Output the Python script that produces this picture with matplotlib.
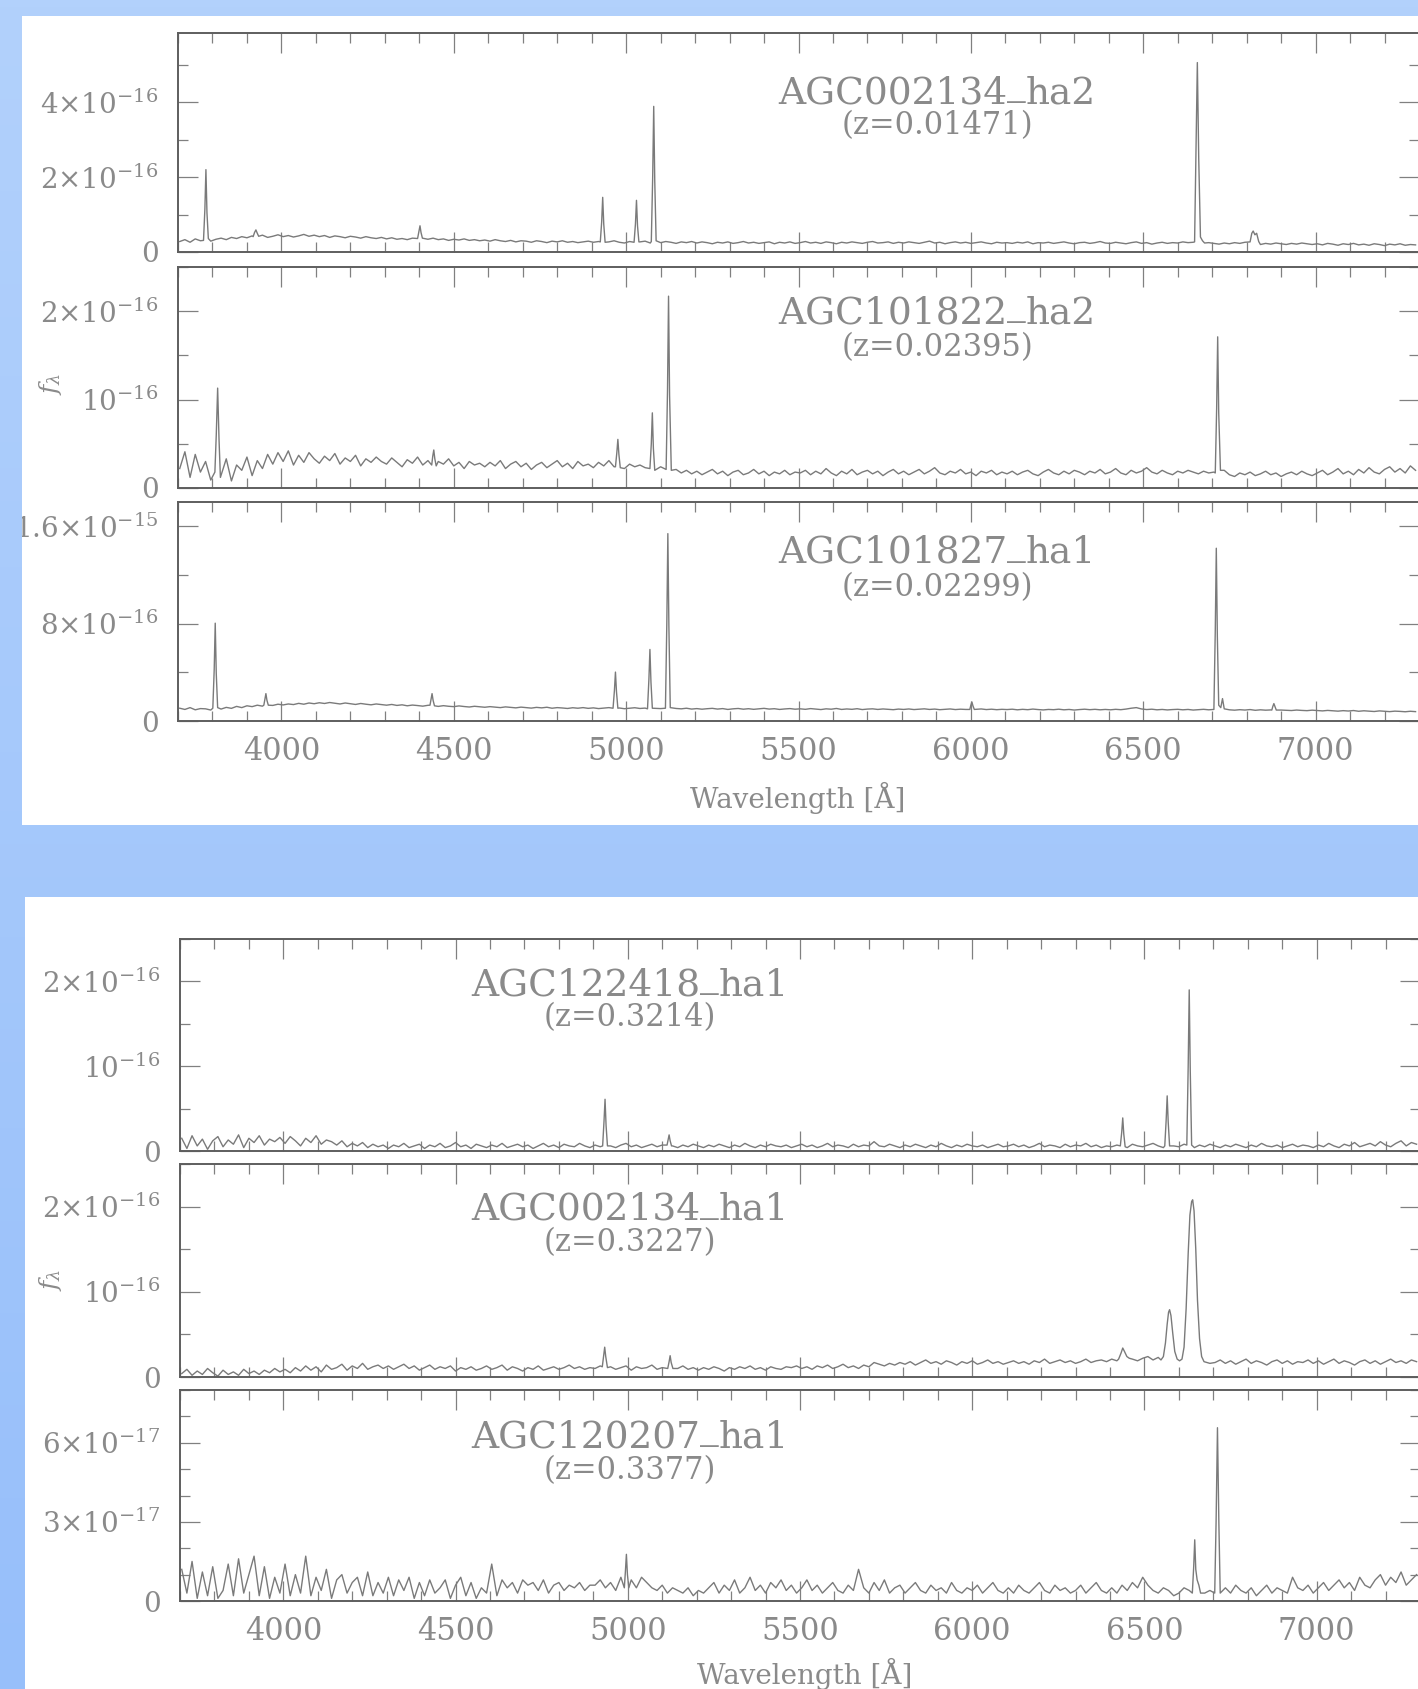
import numpy as np
import matplotlib
matplotlib.use('Agg')
import matplotlib.pyplot as plt
from matplotlib.patches import Rectangle
from matplotlib.colors import LinearSegmentedColormap
from matplotlib.ticker import MultipleLocator
from matplotlib.transforms import Bbox, TransformedBbox

plt.rcParams['font.family'] = ['DejaVu Serif']
plt.rcParams['mathtext.fontset'] = 'dejavuserif'

W, H = 1418, 1689

# continuum samples: first wavelength and spacing [A]
cont_start, cont_step = 3705, 15

# ---- AGC002134_ha2 (units 1e-16)
p1_cont = [0.28, 0.33, 0.26, 0.35, 0.30, 0.32, 0.29, 0.34, 0.37, 0.33, 0.39, 0.36, 0.41, 0.38, 0.43, 0.40, 0.45, 0.39, 0.42, 0.46,
           0.41, 0.44, 0.40, 0.43, 0.47, 0.42, 0.45, 0.41, 0.44, 0.39, 0.43, 0.41, 0.38, 0.42, 0.40, 0.37, 0.41, 0.38, 0.36, 0.39,
           0.35, 0.38, 0.34, 0.36, 0.33, 0.37, 0.40, 0.36, 0.34, 0.37, 0.33, 0.35, 0.31, 0.34, 0.32, 0.35, 0.31, 0.33, 0.30, 0.32,
           0.29, 0.33, 0.30, 0.28, 0.31, 0.27, 0.30, 0.29, 0.26, 0.30, 0.28, 0.25, 0.29, 0.27, 0.30, 0.26, 0.28, 0.25, 0.27, 0.29,
           0.26, 0.28, 0.25, 0.27, 0.30, 0.26, 0.24, 0.28, 0.25, 0.27, 0.29, 0.24, 0.27, 0.25, 0.28, 0.26, 0.23, 0.27, 0.25, 0.28,
           0.24, 0.27, 0.25, 0.22, 0.26, 0.24, 0.27, 0.23, 0.25, 0.28, 0.24, 0.26, 0.23, 0.25, 0.27, 0.22, 0.26, 0.24, 0.27, 0.23,
           0.25, 0.28, 0.24, 0.26, 0.23, 0.27, 0.25, 0.22, 0.26, 0.24, 0.27, 0.25, 0.23, 0.26, 0.28, 0.24, 0.25, 0.27, 0.23, 0.26,
           0.24, 0.27, 0.25, 0.23, 0.26, 0.29, 0.24, 0.26, 0.22, 0.25, 0.27, 0.24, 0.26, 0.23, 0.25, 0.27, 0.24, 0.22, 0.26, 0.24,
           0.25, 0.23, 0.26, 0.24, 0.27, 0.22, 0.25, 0.24, 0.26, 0.23, 0.25, 0.27, 0.24, 0.22, 0.25, 0.26, 0.23, 0.25, 0.28, 0.24,
           0.23, 0.26, 0.24, 0.22, 0.25, 0.27, 0.23, 0.25, 0.21, 0.24, 0.26, 0.23, 0.25, 0.24, 0.27, 0.25, 0.26, 0.24, 0.22, 0.25,
           0.23, 0.21, 0.24, 0.22, 0.25, 0.23, 0.26, 0.24, 0.22, 0.20, 0.23, 0.21, 0.24, 0.22, 0.20, 0.23, 0.21, 0.24, 0.22, 0.20,
           0.22, 0.19, 0.23, 0.21, 0.18, 0.22, 0.20, 0.23, 0.19, 0.21, 0.18, 0.22, 0.20, 0.17, 0.21, 0.19, 0.22, 0.18, 0.20, 0.19]
p1_line_wl = [[3774, 3778, 3781, 3784, 3788], [3918, 3922, 3926, 3930, 3934], [4395, 4399, 4402, 4405, 4409],
              [4925, 4929, 4932, 4935, 4939], [5023, 5027, 5030, 5033, 5037], [5073, 5077, 5080, 5083, 5087],
              [6649, 6653, 6657, 6661, 6666, 6672, 6678], [6810, 6815, 6819, 6824, 6829, 6835]]
p1_line_f = [[0.31, 1.15, 2.20, 1.05, 0.36], [0.41, 0.52, 0.59, 0.50, 0.42], [0.36, 0.55, 0.70, 0.52, 0.37],
             [0.27, 0.80, 1.46, 0.75, 0.26], [0.26, 0.75, 1.38, 0.70, 0.27], [0.28, 2.00, 3.89, 1.90, 0.30],
             [0.27, 2.60, 5.06, 2.50, 0.40, 0.30, 0.24], [0.27, 0.50, 0.56, 0.46, 0.50, 0.28]]

# ---- AGC101822_ha2 (units 1e-16)
p2_cont = [0.22, 0.41, 0.12, 0.38, 0.18, 0.30, 0.09, 0.27, 0.15, 0.33, 0.08, 0.26, 0.20, 0.35, 0.14, 0.31, 0.22, 0.38, 0.27, 0.40,
           0.30, 0.42, 0.26, 0.37, 0.29, 0.40, 0.33, 0.28, 0.36, 0.31, 0.39, 0.27, 0.34, 0.30, 0.37, 0.25, 0.33, 0.29, 0.35, 0.30,
           0.27, 0.34, 0.29, 0.24, 0.32, 0.28, 0.35, 0.26, 0.31, 0.23, 0.30, 0.27, 0.33, 0.25, 0.29, 0.22, 0.30, 0.26, 0.28, 0.24,
           0.29, 0.25, 0.31, 0.22, 0.27, 0.30, 0.24, 0.28, 0.21, 0.26, 0.29, 0.23, 0.27, 0.31, 0.24, 0.28, 0.22, 0.30, 0.25, 0.27,
           0.23, 0.29, 0.25, 0.31, 0.24, 0.28, 0.22, 0.27, 0.24, 0.26, 0.23, 0.25, 0.21, 0.24, 0.20, 0.18, 0.21, 0.17, 0.20, 0.16,
           0.19, 0.15, 0.18, 0.21, 0.16, 0.19, 0.14, 0.18, 0.20, 0.15, 0.17, 0.21, 0.16, 0.19, 0.14, 0.18, 0.16, 0.20, 0.15, 0.18,
           0.17, 0.20, 0.15, 0.19, 0.16, 0.22, 0.17, 0.14, 0.19, 0.16, 0.21, 0.15, 0.18, 0.20, 0.16, 0.19, 0.14, 0.18, 0.21, 0.16,
           0.19, 0.15, 0.18, 0.21, 0.16, 0.19, 0.23, 0.17, 0.15, 0.19, 0.17, 0.21, 0.16, 0.18, 0.14, 0.19, 0.17, 0.20, 0.15, 0.18,
           0.16, 0.19, 0.15, 0.18, 0.20, 0.16, 0.14, 0.18, 0.21, 0.17, 0.15, 0.19, 0.16, 0.20, 0.18, 0.15, 0.19, 0.17, 0.21, 0.16,
           0.18, 0.22, 0.17, 0.15, 0.20, 0.17, 0.19, 0.23, 0.18, 0.16, 0.20, 0.17, 0.15, 0.19, 0.17, 0.20, 0.18, 0.16, 0.19, 0.17,
           0.18, 0.16, 0.20, 0.15, 0.13, 0.17, 0.15, 0.18, 0.14, 0.16, 0.19, 0.15, 0.17, 0.13, 0.16, 0.18, 0.15, 0.19, 0.16, 0.14,
           0.17, 0.20, 0.15, 0.18, 0.22, 0.16, 0.19, 0.15, 0.21, 0.17, 0.23, 0.18, 0.16, 0.21, 0.24, 0.18, 0.22, 0.17, 0.25, 0.20]
p2_line_wl = [[3807, 3811, 3815, 3819, 3823], [4436, 4439, 4442, 4445, 4449], [4969, 4973, 4976, 4979, 4983],
              [5069, 5073, 5076, 5079, 5083], [5116, 5120, 5123, 5126, 5131], [6709, 6713, 6716, 6719, 6724]]
p2_line_f = [[0.18, 0.60, 1.13, 0.55, 0.12], [0.26, 0.36, 0.43, 0.33, 0.25], [0.24, 0.40, 0.55, 0.38, 0.23],
             [0.22, 0.50, 0.85, 0.45, 0.20], [0.21, 1.10, 2.17, 1.05, 0.20], [0.17, 0.90, 1.71, 0.85, 0.20]]

# ---- AGC101827_ha1 (units 1e-16)
p3_cont = [1.05, 0.95, 1.10, 0.92, 1.02, 1.00, 0.90, 1.05, 0.98, 1.12, 1.04, 1.20, 1.10, 1.25, 1.18, 1.30, 1.22, 1.35, 1.28, 1.38,
           1.32, 1.40, 1.35, 1.45, 1.38, 1.48, 1.42, 1.50, 1.44, 1.52, 1.46, 1.40, 1.48, 1.42, 1.36, 1.44, 1.38, 1.33, 1.40, 1.35,
           1.30, 1.36, 1.28, 1.33, 1.25, 1.31, 1.27, 1.22, 1.29, 1.24, 1.20, 1.26, 1.21, 1.18, 1.24, 1.19, 1.15, 1.21, 1.17, 1.13,
           1.18, 1.14, 1.10, 1.16, 1.12, 1.08, 1.14, 1.10, 1.06, 1.12, 1.08, 1.13, 1.05, 1.10, 1.07, 1.03, 1.09, 1.05, 1.10, 1.04,
           1.08, 1.02, 1.06, 1.10, 1.04, 1.07, 1.01, 1.05, 1.09, 1.03, 1.06, 1.00, 1.04, 1.02, 1.06, 0.99, 1.03, 1.00, 1.05, 0.98,
           1.02, 0.97, 1.01, 1.04, 0.98, 1.02, 0.95, 1.00, 1.03, 0.97, 1.01, 0.96, 1.00, 1.04, 0.98, 1.01, 0.95, 0.99, 1.02, 0.97,
           1.00, 0.96, 1.02, 0.98, 0.94, 1.00, 0.97, 1.03, 0.95, 0.99, 0.96, 1.01, 0.94, 0.98, 1.00, 0.95, 0.99, 0.96, 0.93, 0.98,
           0.95, 0.99, 0.94, 0.97, 1.00, 0.95, 0.98, 0.93, 0.96, 0.99, 0.94, 0.97, 0.95, 0.92, 0.96, 0.99, 0.94, 0.97, 0.93, 0.96,
           0.94, 0.97, 0.92, 0.96, 0.93, 0.98, 0.94, 0.91, 0.95, 0.93, 0.97, 0.92, 0.95, 0.90, 0.94, 0.97, 0.93, 0.96, 0.92, 0.95,
           0.92, 0.96, 0.93, 0.98, 1.05, 1.10, 0.99, 0.94, 0.97, 0.92, 0.95, 0.91, 0.94, 0.96, 0.92, 0.95, 0.90, 0.93, 0.96, 0.92,
           0.95, 1.20, 0.96, 0.92, 0.89, 0.93, 0.90, 0.94, 0.88, 0.92, 0.89, 0.91, 0.87, 0.90, 0.88, 0.86, 0.90, 0.87, 0.85, 0.89,
           0.86, 0.83, 0.87, 0.84, 0.81, 0.85, 0.82, 0.86, 0.80, 0.84, 0.81, 0.78, 0.83, 0.80, 0.77, 0.81, 0.79, 0.76, 0.80, 0.77]
p3_line_wl = [[3801, 3805, 3808, 3811, 3815], [3949, 3952, 3955, 3958, 3962], [4431, 4434, 4437, 4440, 4444],
              [4962, 4966, 4969, 4972, 4976], [5062, 5066, 5069, 5072, 5076], [5114, 5118, 5121, 5124, 5128],
              [5997, 6000, 6003, 6006, 6010], [6705, 6709, 6712, 6715, 6719, 6725, 6730, 6735],
              [6873, 6876, 6879, 6882, 6886]]
p3_line_f = [[1.05, 4.20, 8.04, 3.90, 1.10], [1.30, 1.80, 2.25, 1.70, 1.30], [1.30, 1.80, 2.25, 1.70, 1.25],
             [1.05, 2.50, 4.02, 2.40, 1.05], [1.00, 3.40, 5.88, 3.20, 1.05], [1.05, 8.00, 15.4, 7.80, 1.10],
             [0.95, 1.30, 1.56, 1.25, 0.95], [0.95, 7.40, 14.2, 7.00, 1.30, 1.10, 1.84, 1.00],
             [0.90, 1.20, 1.43, 1.20, 0.90]]

# ---- AGC122418_ha1 (units 1e-16)
p4_cont = [0.15, 0.03, 0.18, 0.06, 0.14, 0.02, 0.12, 0.17, 0.05, 0.13, 0.08, 0.19, 0.04, 0.15, 0.10, 0.18, 0.07, 0.14, 0.11, 0.16,
           0.09, 0.17, 0.12, 0.06, 0.15, 0.10, 0.18, 0.08, 0.13, 0.11, 0.07, 0.12, 0.05, 0.09, 0.06, 0.10, 0.04, 0.08, 0.05, 0.07,
           0.03, 0.07, 0.05, 0.09, 0.04, 0.06, 0.08, 0.03, 0.07, 0.05, 0.09, 0.04, 0.06, 0.10, 0.05, 0.07, 0.03, 0.08, 0.06, 0.04,
           0.07, 0.05, 0.09, 0.04, 0.06, 0.08, 0.05, 0.07, 0.03, 0.06, 0.09, 0.05, 0.07, 0.04, 0.08, 0.06, 0.05, 0.09, 0.06, 0.04,
           0.07, 0.05, 0.08, 0.06, 0.04, 0.07, 0.09, 0.05, 0.07, 0.04, 0.06, 0.08, 0.05, 0.07, 0.10, 0.06, 0.04, 0.07, 0.05, 0.08,
           0.06, 0.04, 0.07, 0.05, 0.08, 0.06, 0.04, 0.07, 0.05, 0.09, 0.06, 0.04, 0.07, 0.05, 0.08, 0.06, 0.05, 0.07, 0.04, 0.06,
           0.08, 0.05, 0.07, 0.04, 0.06, 0.09, 0.05, 0.07, 0.06, 0.04, 0.08, 0.05, 0.07, 0.06, 0.11, 0.06, 0.05, 0.08, 0.06, 0.04,
           0.07, 0.05, 0.08, 0.06, 0.04, 0.07, 0.05, 0.09, 0.06, 0.04, 0.07, 0.05, 0.08, 0.06, 0.05, 0.07, 0.04, 0.06, 0.08, 0.05,
           0.06, 0.08, 0.05, 0.07, 0.04, 0.06, 0.09, 0.05, 0.07, 0.06, 0.04, 0.08, 0.05, 0.07, 0.06, 0.09, 0.05, 0.07, 0.04, 0.06,
           0.05, 0.07, 0.06, 0.04, 0.08, 0.06, 0.05, 0.07, 0.09, 0.06, 0.04, 0.07, 0.06, 0.05, 0.08, 0.06, 0.04, 0.07, 0.05, 0.08,
           0.06, 0.04, 0.07, 0.05, 0.08, 0.06, 0.04, 0.07, 0.05, 0.09, 0.06, 0.05, 0.07, 0.04, 0.06, 0.08, 0.05, 0.07, 0.06, 0.04,
           0.07, 0.05, 0.09, 0.06, 0.04, 0.08, 0.06, 0.10, 0.05, 0.07, 0.09, 0.06, 0.11, 0.07, 0.05, 0.09, 0.12, 0.06, 0.10, 0.08]
p4_line_wl = [[4927, 4931, 4934, 4937, 4941], [5114, 5117, 5120, 5123, 5127], [6430, 6434, 6437, 6440, 6444],
              [6559, 6563, 6566, 6569, 6573], [6623, 6627, 6630, 6633, 6637]]
p4_line_f = [[0.06, 0.35, 0.61, 0.30, 0.06], [0.07, 0.13, 0.19, 0.12, 0.06], [0.06, 0.22, 0.39, 0.20, 0.05],
             [0.06, 0.36, 0.65, 0.34, 0.06], [0.07, 1.00, 1.90, 0.95, 0.07]]

# ---- AGC002134_ha1 (units 1e-16)
p5_cont = [0.04, 0.09, 0.02, 0.07, 0.03, 0.10, 0.05, 0.01, 0.08, 0.03, 0.06, 0.02, 0.09, 0.04, 0.07, 0.03, 0.08, 0.05, 0.10, 0.06,
           0.09, 0.05, 0.11, 0.07, 0.13, 0.08, 0.12, 0.06, 0.14, 0.09, 0.11, 0.15, 0.08, 0.13, 0.10, 0.16, 0.09, 0.12, 0.14, 0.10,
           0.13, 0.09, 0.12, 0.15, 0.10, 0.13, 0.08, 0.11, 0.14, 0.09, 0.12, 0.10, 0.13, 0.07, 0.11, 0.09, 0.12, 0.08, 0.10, 0.13,
           0.09, 0.11, 0.14, 0.08, 0.12, 0.10, 0.07, 0.11, 0.09, 0.13, 0.08, 0.10, 0.12, 0.09, 0.11, 0.14, 0.10, 0.12, 0.09, 0.11,
           0.10, 0.13, 0.11, 0.12, 0.09, 0.11, 0.13, 0.08, 0.12, 0.10, 0.11, 0.14, 0.09, 0.11, 0.08, 0.12, 0.10, 0.13, 0.09, 0.11,
           0.08, 0.11, 0.09, 0.12, 0.10, 0.07, 0.11, 0.09, 0.12, 0.10, 0.13, 0.09, 0.11, 0.08, 0.12, 0.10, 0.09, 0.12, 0.11, 0.13,
           0.10, 0.12, 0.09, 0.13, 0.11, 0.14, 0.10, 0.12, 0.15, 0.11, 0.13, 0.10, 0.14, 0.12, 0.17, 0.15, 0.13, 0.16, 0.14, 0.17,
           0.15, 0.18, 0.14, 0.17, 0.20, 0.16, 0.18, 0.15, 0.19, 0.17, 0.14, 0.18, 0.16, 0.19, 0.15, 0.17, 0.20, 0.16, 0.18, 0.15,
           0.17, 0.19, 0.16, 0.18, 0.15, 0.19, 0.17, 0.21, 0.16, 0.18, 0.20, 0.17, 0.19, 0.16, 0.18, 0.21, 0.17, 0.19, 0.20, 0.18,
           0.21, 0.19, 0.22, 0.20, 0.21, 0.19, 0.22, 0.24, 0.20, 0.23, 0.19, 0.22, 0.20, 0.24, 0.21, 0.18, 0.20, 0.17, 0.19, 0.16,
           0.17, 0.20, 0.16, 0.19, 0.15, 0.18, 0.21, 0.16, 0.19, 0.17, 0.14, 0.18, 0.20, 0.16, 0.19, 0.15, 0.18, 0.17, 0.20, 0.16,
           0.19, 0.15, 0.18, 0.21, 0.16, 0.19, 0.17, 0.14, 0.18, 0.20, 0.16, 0.19, 0.15, 0.18, 0.21, 0.17, 0.19, 0.16, 0.20, 0.18]
p5_line_wl = [[4926, 4930, 4933, 4936, 4941], [5116, 5120, 5123, 5126, 5131], [6425, 6432, 6437, 6442, 6449, 6456],
              [6548, 6555, 6561, 6566, 6570, 6573, 6577, 6582, 6588, 6595, 6602, 6609, 6615, 6621, 6627, 6632,
               6637, 6640, 6644, 6649, 6654, 6660, 6666, 6673]]
p5_line_f = [[0.12, 0.25, 0.35, 0.24, 0.11], [0.10, 0.18, 0.25, 0.17, 0.10], [0.21, 0.28, 0.34, 0.30, 0.24, 0.22],
             [0.20, 0.24, 0.40, 0.62, 0.76, 0.79, 0.72, 0.52, 0.30, 0.21, 0.19, 0.21, 0.35, 0.80, 1.45, 1.90,
              2.06, 2.08, 1.95, 1.50, 0.90, 0.45, 0.24, 0.18]]

# ---- AGC120207_ha1 (units 1e-17)
p6_cont = [1.2, 0.3, 1.5, 0.1, 1.1, 0.2, 1.3, 0.1, 0.4, 1.4, 0.2, 1.6, 0.3, 1.0, 1.7, 0.2, 1.3, 0.1, 0.9, 0.3,
           1.4, 0.2, 1.0, 0.3, 1.7, 0.2, 0.9, 0.4, 1.2, 0.1, 0.8, 1.0, 0.3, 0.7, 0.9, 0.2, 1.1, 0.2, 0.7, 0.3,
           0.9, 0.2, 0.8, 0.4, 0.9, 0.1, 0.7, 0.2, 0.8, 0.3, 0.5, 0.8, 0.1, 0.6, 0.9, 0.2, 0.7, 0.1, 0.5, 0.3,
           1.4, 0.2, 0.8, 0.5, 0.7, 0.3, 0.8, 0.6, 0.7, 0.4, 0.8, 0.3, 0.6, 0.7, 0.4, 0.6, 0.5, 0.7, 0.4, 0.6,
           0.6, 0.8, 0.5, 0.7, 0.4, 0.9, 0.6, 0.8, 0.5, 0.9, 0.7, 0.5, 0.4, 0.6, 0.3, 0.5, 0.4, 0.3, 0.5, 0.2,
           0.4, 0.3, 0.5, 0.7, 0.3, 0.6, 0.4, 0.8, 0.3, 0.5, 0.9, 0.4, 0.6, 0.3, 0.7, 0.5, 0.8, 0.4, 0.6, 0.3,
           0.5, 0.8, 0.4, 0.6, 0.3, 0.5, 0.7, 0.4, 0.3, 0.6, 0.4, 1.2, 0.5, 0.3, 0.7, 0.4, 0.8, 0.3, 0.5, 0.6,
           0.3, 0.5, 0.7, 0.4, 0.3, 0.6, 0.4, 0.5, 0.3, 0.7, 0.4, 0.3, 0.5, 0.4, 0.6, 0.3, 0.5, 0.7, 0.4, 0.3,
           0.5, 0.3, 0.6, 0.4, 0.3, 0.5, 0.7, 0.4, 0.3, 0.6, 0.4, 0.5, 0.3, 0.4, 0.6, 0.3, 0.5, 0.7, 0.4, 0.3,
           0.5, 0.3, 0.6, 0.4, 0.7, 0.5, 0.9, 0.6, 0.4, 0.3, 0.5, 0.4, 0.2, 0.3, 0.5, 0.4, 0.3, 0.2, 0.3, 0.4,
           0.3, 0.2, 0.5, 0.3, 0.6, 0.4, 0.3, 0.5, 0.2, 0.4, 0.6, 0.3, 0.5, 0.4, 0.3, 0.9, 0.5, 0.4, 0.6, 0.3,
           0.5, 0.7, 0.4, 0.6, 0.8, 0.5, 0.7, 0.4, 0.9, 0.6, 0.5, 0.8, 1.0, 0.6, 0.9, 0.7, 1.1, 0.6, 0.8, 1.0]
p6_line_wl = [[4990, 4993, 4996, 4999, 5003], [6639, 6643, 6646, 6649, 6653, 6658, 6663],
              [6704, 6708, 6712, 6716, 6720]]
p6_line_f = [[0.5, 1.1, 1.77, 1.0, 0.5], [0.3, 1.3, 2.32, 1.2, 0.8, 0.6, 0.3],
             [0.3, 3.0, 6.57, 3.0, 0.3]]

names = ['AGC002134_ha2', 'AGC101822_ha2', 'AGC101827_ha1', 'AGC122418_ha1', 'AGC002134_ha1', 'AGC120207_ha1']
redshifts = ['(z=0.01471)', '(z=0.02395)', '(z=0.02299)', '(z=0.3214)', '(z=0.3227)', '(z=0.3377)']
units = [1e-16, 1e-16, 1e-16, 1e-16, 1e-16, 1e-17]
ylims = [5.85e-16, 2.5e-16, 1.8e-15, 2.5e-16, 2.5e-16, 8e-17]
ytick_vals = [[0, 2e-16, 4e-16], [0, 1e-16, 2e-16], [0, 8e-16, 1.6e-15],
              [0, 1e-16, 2e-16], [0, 1e-16, 2e-16], [0, 3e-17, 6e-17]]
ytick_labels = [['0', r'$2{\times}10^{-16}$', r'$4{\times}10^{-16}$'],
                ['0', r'$10^{-16}$', r'$2{\times}10^{-16}$'],
                ['0', r'$8{\times}10^{-16}$', r'$1.6{\times}10^{-15}$'],
                ['0', r'$10^{-16}$', r'$2{\times}10^{-16}$'],
                ['0', r'$10^{-16}$', r'$2{\times}10^{-16}$'],
                ['0', r'$3{\times}10^{-17}$', r'$6{\times}10^{-17}$']]
yminor_step = [1e-16, 0.5e-16, 4e-16, 0.5e-16, 0.5e-16, 1e-17]

conts = [p1_cont, p2_cont, p3_cont, p4_cont, p5_cont, p6_cont]
lines_wl = [p1_line_wl, p2_line_wl, p3_line_wl, p4_line_wl, p5_line_wl, p6_line_wl]
lines_f = [p1_line_f, p2_line_f, p3_line_f, p4_line_f, p5_line_f, p6_line_f]

# layout in pixels: (left, right, top, bottom) of each panel, label baselines
panel_px = [(178, 1419, 33, 252), (178, 1419, 267, 488), (178, 1419, 502, 721),
            (180, 1420, 939, 1151), (180, 1420, 1164, 1377), (180, 1420, 1390, 1601)]
name_px = [(937, 103, 134), (937, 323, 356), (937, 563, 596),
           (630, 995, 1026), (630, 1220, 1251), (630, 1447, 1479)]
white_px = [(21.5, 16, 825), (25, 897, 1689)]

TXT = '#8a8a8a'
LINE = '#7a7a7a'
SPINE = '#5e5e5e'


def build(cont, seg_wl, seg_f):
    wl = cont_start + cont_step * np.arange(len(cont))
    fl = np.array(cont, float)
    keep = np.ones(len(wl), bool)
    for s in seg_wl:
        keep &= ~((wl >= s[0] - 2) & (wl <= s[-1] + 2))
    x = np.concatenate([wl[keep]] + [np.array(s, float) for s in seg_wl])
    y = np.concatenate([fl[keep]] + [np.array(s, float) for s in seg_f])
    o = np.argsort(x)
    return x[o], y[o]


fig = plt.figure(figsize=(W / 100, H / 100), dpi=100)
renderer = fig.canvas.get_renderer()


def name_label(cx, yb, s, size):
    # underscore sits on the baseline in the original plot, so draw it raised
    head, tail = s.split('_')
    parts = [(head, 0), ('_', 9), (tail, 0)]
    ts = [fig.text(0, 0, p, fontsize=size, color=TXT, va='baseline', ha='left') for p, _ in parts]
    ws = [t.get_window_extent(renderer).width for t in ts]
    x = cx - sum(ws) / 2
    for t, w, (p, dy) in zip(ts, ws, parts):
        t.set_position((x / W, 1 - (yb - dy) / H))
        x += w


bg = fig.add_axes([0, 0, 1, 1], zorder=-10)
bg.axis('off')
cmap = LinearSegmentedColormap.from_list('bg', ['#b2d1fc', '#97bffa'])
bg.imshow(np.linspace(0, 1, 256)[:, None], aspect='auto', cmap=cmap, extent=[0, 1, 0, 1])

clips = []
for x0, y0, y1 in white_px:
    fig.patches.append(Rectangle((x0 / W, 1 - y1 / H), 1 - x0 / W + 0.01, (y1 - y0) / H,
                                 transform=fig.transFigure, facecolor='white', edgecolor='none', zorder=-5))
    clips.append(TransformedBbox(Bbox([[x0 / W, 1 - y1 / H], [1, 1 - y0 / H]]), fig.transFigure))

for i in range(6):
    l, r, t, b = panel_px[i]
    ax = fig.add_axes([l / W, 1 - b / H, (r - l) / W, (b - t) / H])
    ax.set_facecolor('none')
    x, y = build(conts[i], lines_wl[i], lines_f[i])
    ax.plot(x, y * units[i], color=LINE, lw=1.0)
    ax.set_xlim(3700, 7300)
    ax.set_ylim(0, ylims[i])
    ax.xaxis.set_major_locator(MultipleLocator(500))
    ax.xaxis.set_minor_locator(MultipleLocator(100))
    ax.set_yticks(ytick_vals[i], ytick_labels[i])
    ax.yaxis.set_minor_locator(MultipleLocator(yminor_step[i]))
    ax.tick_params(which='both', direction='in', top=True, right=True, color='#808080',
                   labelcolor=TXT, width=0.9)
    ax.tick_params(which='major', length=14.4)
    ax.tick_params(which='minor', length=7)
    ax.tick_params(axis='y', labelsize=20, pad=14)
    ax.tick_params(axis='x', labelsize=22, pad=11, labelbottom=(i in (2, 5)))
    for sp in ax.spines.values():
        sp.set_color(SPINE)
        sp.set_linewidth(1.4)
    for tk in ax.yaxis.get_major_ticks():
        tk.label1.set_clip_box(clips[0 if i < 3 else 1])
        tk.label1.set_clip_on(True)

    cx, yb1, yb2 = name_px[i]
    name_label(cx, yb1, names[i], 27)
    fig.text(cx / W, 1 - yb2 / H, redshifts[i], ha='center', va='baseline', fontsize=22, color=TXT)

fig.text(798 / W, 1 - 808 / H, 'Wavelength [Å]', ha='center', va='baseline', fontsize=20, color=TXT)
fig.text(805 / W, 1 - 1684 / H, 'Wavelength [Å]', ha='center', va='baseline', fontsize=20, color=TXT)
fig.text(50 / W, 1 - 384 / H, r'$f_\lambda$', ha='center', va='center', rotation=90, fontsize=18, color=TXT)
fig.text(50 / W, 1 - 1280 / H, r'$f_\lambda$', ha='center', va='center', rotation=90, fontsize=18, color=TXT)

fig.savefig('out.png', dpi=100)
